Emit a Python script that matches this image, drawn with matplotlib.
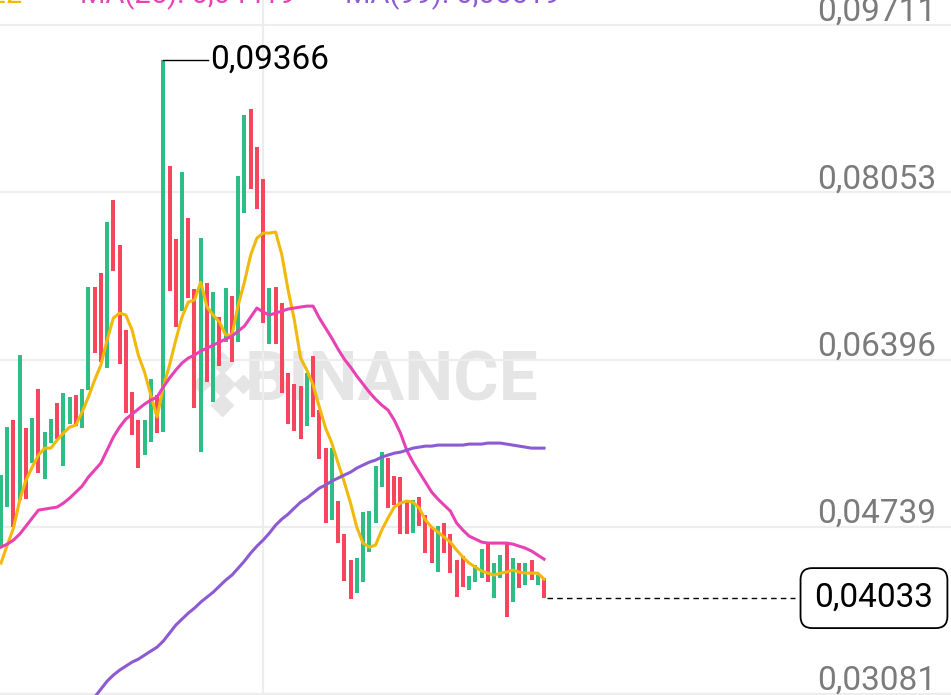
import numpy as np
import matplotlib
matplotlib.use("Agg")
import matplotlib.pyplot as plt
from matplotlib.transforms import blended_transform_factory

plt.rcParams['font.family'] = ['Roboto', 'DejaVu Sans']

#### candle data (high, low, direction)
highs = [0.05252, 0.05727, 0.05797, 0.06441, 0.05718, 0.05817, 0.06104, 0.05678, 0.05807, 0.05965,
         0.06064, 0.06025, 0.06045, 0.06104, 0.07115, 0.07115, 0.07254, 0.07759, 0.07977, 0.07531,
         0.06689, 0.06074, 0.05797, 0.05797, 0.06203, 0.06045, 0.09366, 0.08314, 0.07591, 0.08254,
         0.07799, 0.07095, 0.07600, 0.07154, 0.07065, 0.06818, 0.07105, 0.07026, 0.08215, 0.08819,
         0.08879, 0.08502, 0.08185, 0.07105, 0.07115, 0.06956, 0.06263, 0.06154, 0.06134, 0.06263,
         0.06431, 0.05896, 0.05519, 0.05519, 0.04994, 0.04667, 0.04409, 0.04429, 0.04885, 0.04895,
         0.05341, 0.05480, 0.05420, 0.05242, 0.05232, 0.05004, 0.05004, 0.05034, 0.04855, 0.04736,
         0.04746, 0.04776, 0.04667, 0.04409, 0.04449, 0.04251, 0.04360, 0.04518, 0.04578, 0.04380,
         0.04459, 0.04588, 0.04429, 0.04380, 0.04380, 0.04409, 0.04261, 0.04231]
lows = [0.04529, 0.04935, 0.04736, 0.05004, 0.05014, 0.05371, 0.05272, 0.05212, 0.05569, 0.05609,
        0.05341, 0.05757, 0.05737, 0.05718, 0.06094, 0.06461, 0.06372, 0.06312, 0.07273, 0.06352,
        0.05866, 0.05648, 0.05321, 0.05450, 0.05579, 0.05668, 0.05678, 0.07075, 0.06718, 0.06877,
        0.07006, 0.05916, 0.05480, 0.06173, 0.05975, 0.06332, 0.06570, 0.06372, 0.06570, 0.07848,
        0.08086, 0.07888, 0.06758, 0.06550, 0.06550, 0.06064, 0.05757, 0.05688, 0.05609, 0.05737,
        0.05827, 0.05410, 0.04776, 0.04806, 0.04578, 0.04201, 0.04023, 0.04082, 0.04191, 0.04489,
        0.04776, 0.05133, 0.04925, 0.04954, 0.04667, 0.04667, 0.04677, 0.04746, 0.04479, 0.04380,
        0.04290, 0.04479, 0.04281, 0.04043, 0.04142, 0.04112, 0.04191, 0.04231, 0.04191, 0.04033,
        0.04231, 0.03845, 0.03993, 0.04132, 0.04162, 0.04211, 0.04162, 0.04033]
# 1 = rising (green), 0 = falling (red)
rising = [1, 1, 0, 1, 0, 1, 0, 1, 1, 0, 1, 1, 0, 1, 1, 0, 0, 1, 0, 0,
          0, 0, 0, 1, 1, 0, 1, 0, 0, 1, 0, 0, 1, 0, 1, 0, 1, 0, 1, 1,
          0, 0, 0, 1, 0, 0, 0, 0, 0, 1, 0, 0, 0, 1, 0, 0, 0, 1, 1, 1,
          1, 1, 0, 0, 0, 0, 1, 0, 0, 0, 1, 0, 0, 0, 0, 1, 1, 1, 0, 1,
          1, 0, 1, 0, 1, 0, 1, 0]

ma7 = [0.04380, 0.04558, 0.04727, 0.05004, 0.05202, 0.05331, 0.05450, 0.05519, 0.05519, 0.05599,
       0.05668, 0.05727, 0.05747, 0.05876, 0.06025, 0.06193, 0.06342, 0.06590, 0.06808, 0.06857,
       0.06837, 0.06689, 0.06441, 0.06272, 0.06045, 0.05827, 0.06124, 0.06342, 0.06590, 0.06817,
       0.06966, 0.06986, 0.07164, 0.06917, 0.06837, 0.06768, 0.06639, 0.06639, 0.06936, 0.07164,
       0.07432, 0.07600, 0.07650, 0.07650, 0.07660, 0.07432, 0.07085, 0.06788, 0.06411, 0.06292,
       0.06144, 0.05926, 0.05718, 0.05569, 0.05371, 0.05182, 0.04974, 0.04736, 0.04578, 0.04538,
       0.04558, 0.04707, 0.04826, 0.04935, 0.04974, 0.04994, 0.04984, 0.04925, 0.04806, 0.04736,
       0.04687, 0.04637, 0.04588, 0.04509, 0.04439, 0.04380, 0.04340, 0.04301, 0.04281, 0.04261,
       0.04281, 0.04291, 0.04311, 0.04291, 0.04281, 0.04281, 0.04281, 0.04221]
ma25 = [0.04538, 0.04568, 0.04608, 0.04667, 0.04746, 0.04826, 0.04905, 0.04915, 0.04925, 0.04935,
        0.04974, 0.05024, 0.05083, 0.05143, 0.05232, 0.05301, 0.05371, 0.05499, 0.05628, 0.05727,
        0.05807, 0.05856, 0.05906, 0.05955, 0.05995, 0.06025, 0.06124, 0.06213, 0.06292, 0.06362,
        0.06411, 0.06441, 0.06481, 0.06510, 0.06540, 0.06570, 0.06600, 0.06629, 0.06679, 0.06728,
        0.06817, 0.06907, 0.06867, 0.06837, 0.06857, 0.06877, 0.06897, 0.06907, 0.06917, 0.06926,
        0.06926, 0.06808, 0.06709, 0.06609, 0.06500, 0.06401, 0.06322, 0.06233, 0.06154, 0.06074,
        0.06005, 0.05945, 0.05896, 0.05797, 0.05668, 0.05499, 0.05380, 0.05281, 0.05182, 0.05083,
        0.05014, 0.04954, 0.04895, 0.04776, 0.04707, 0.04647, 0.04618, 0.04588, 0.04578, 0.04578,
        0.04578, 0.04578, 0.04568, 0.04548, 0.04528, 0.04499, 0.04459, 0.04419]
# MA(99) enters the visible window from candle 15 on
ma99_start = 15
ma99 = [0.03052, 0.03131, 0.03210, 0.03270, 0.03319, 0.03359, 0.03399, 0.03428, 0.03468, 0.03508,
        0.03547, 0.03607, 0.03686, 0.03765, 0.03825, 0.03884, 0.03934, 0.03993, 0.04043, 0.04092,
        0.04152, 0.04211, 0.04261, 0.04330, 0.04400, 0.04479, 0.04548, 0.04608, 0.04677, 0.04756,
        0.04816, 0.04865, 0.04925, 0.04984, 0.05024, 0.05073, 0.05123, 0.05153, 0.05192, 0.05222,
        0.05252, 0.05281, 0.05321, 0.05351, 0.05380, 0.05400, 0.05430, 0.05450, 0.05469, 0.05479,
        0.05499, 0.05519, 0.05529, 0.05539, 0.05539, 0.05549, 0.05549, 0.05549, 0.05549, 0.05549,
        0.05559, 0.05559, 0.05559, 0.05569, 0.05569, 0.05569, 0.05559, 0.05549, 0.05539, 0.05529,
        0.05519, 0.05519, 0.05519]

price_ticks = [0.09711, 0.08053, 0.06396, 0.04739, 0.03081]
tick_labels = ["0,09711", "0,08053", "0,06396", "0,04739", "0,03081"]
last_price = 0.04033
last_label = "0,04033"
high_label = "0,09366"
legend_items = [("MA(7): 0,04222", "#f0b90b"), ("MA(25): 0,04419", "#e841b4"), ("MA(99): 0,05519", "#8c5bd1")]

GREEN = "#2ebd85"
RED = "#f6465d"

fig = plt.figure(figsize=(9.51, 6.95), dpi=100)
ax = fig.add_axes([0, 0, 1, 1])
ax.set_xlim(-0.16, 152.2)
ax.set_ylim(0.03073, 0.09959)
for s in ax.spines.values():
    s.set_visible(False)
ax.set_xticks([42])
ax.set_yticks(price_ticks)
ax.tick_params(left=False, bottom=False, labelleft=False, labelbottom=False)
ax.grid(True, color="#ededed", lw=1.6, zorder=0)
ax.set_axisbelow(True)

# watermark
ax.text(0.412, 0.45, "BINANCE", transform=ax.transAxes, fontsize=50, fontweight="bold",
        color="#e5e5e5", ha="center", va="center", zorder=0.5)
for dx, dy, sz in [(0, 0, 13), (-21, 0, 9), (21, 0, 9), (0, -21, 11), (0, 21, 11)]:
    ax.plot([0.2335 + dx / 951], [0.448 + dy / 695], marker="D", ms=sz, color="#e5e5e5",
            transform=ax.transAxes, zorder=0.5)

# candles
x = np.arange(len(highs))
hi = np.array(highs)
lo = np.array(lows)
colors = [GREEN if r else RED for r in rising]
ax.bar(x, hi - lo, bottom=lo, width=0.64, color=colors, zorder=2)

# moving averages
ax.plot(x, ma7, color="#f0b90b", lw=2.2, zorder=3)
ax.plot(x, ma25, color="#e841b4", lw=2.2, zorder=3)
ax.plot(np.arange(ma99_start, ma99_start + len(ma99)), ma99, color="#8c5bd1", lw=2.2, zorder=3)

# price labels on the right
tr = blended_transform_factory(ax.transAxes, ax.transData)
for v, lab in zip(price_ticks, tick_labels):
    ax.annotate(lab, xy=(0.984, v), xycoords=tr, xytext=(0, 3), textcoords="offset points",
                ha="right", va="baseline", fontsize=24, color="#7b7b7b")

# high marker
i_high = int(np.argmax(hi))
ax.plot([i_high, i_high + 7.2], [hi[i_high], hi[i_high]], color="black", lw=1, zorder=4)
ax.text(i_high + 7.5, hi[i_high], high_label, fontsize=24, color="black", ha="left", va="center")

# last price line and box
ax.plot([len(highs) - 0.6, 127.2], [last_price, last_price], color="black", lw=1,
        ls=(0, (4, 3)), zorder=4)
ax.text(0.919, last_price, last_label, transform=tr, fontsize=24, color="black",
        ha="center", va="center",
        bbox=dict(boxstyle="round,pad=0.42,rounding_size=0.35", fc="white", ec="black", lw=1.3))

# legend row, cut off by the top edge
leg_pos = [(22 / 951, "right"), (80 / 951, "left"), (345 / 951, "left")]
for (txt, col), (lx, ha) in zip(legend_items, leg_pos):
    fig.text(lx, 1 - 3.5 / 695, txt, fontsize=21, color=col, ha=ha, va="baseline")

fig.savefig("out.png", dpi=100)
